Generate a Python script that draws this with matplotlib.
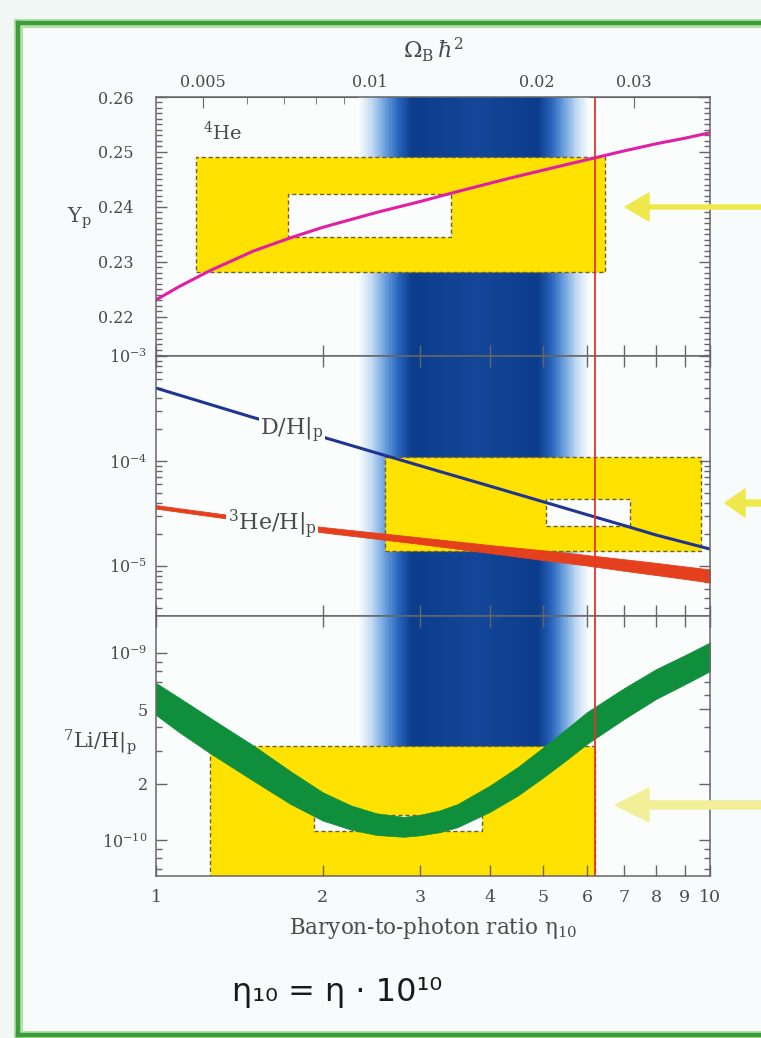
import numpy as np
import matplotlib
matplotlib.use("Agg")
import matplotlib.pyplot as plt
from matplotlib.patches import Rectangle, FancyArrow
from matplotlib.lines import Line2D
from matplotlib.colors import LinearSegmentedColormap
from matplotlib.ticker import FixedLocator, FixedFormatter, NullLocator, NullFormatter, MultipleLocator, LogLocator

plt.rcParams['font.family'] = ['DejaVu Serif']
plt.rcParams['mathtext.fontset'] = 'dejavuserif'

# ---------------- data ----------------
eta_ticks = [1, 2, 3, 4, 5, 6, 7, 8, 9, 10]
eta_tick_labels = ['1', '2', '3', '4', '5', '6', '7', '8', '9', '10']

omega_ticks = [0.005, 0.01, 0.02, 0.03]
omega_tick_labels = ['0.005', '0.01', '0.02', '0.03']
omega_minor = [0.006, 0.007, 0.008, 0.009]
ETA_PER_OMEGA = 243.0

yp_ticks = [0.22, 0.23, 0.24, 0.25, 0.26]
yp_tick_labels = ['0.22', '0.23', '0.24', '0.25', '0.26']

# 4He mass fraction
eta_yp = [1, 1.1, 1.25, 1.5, 1.75, 2, 2.5, 3, 3.5, 4, 4.5, 5, 5.5, 6, 7, 8, 9, 10]
yp = [0.2231, 0.2255, 0.2284, 0.2320, 0.2344, 0.2363, 0.2390, 0.2410, 0.2428, 0.2443,
      0.2456, 0.2467, 0.2477, 0.2486, 0.2502, 0.2515, 0.2525, 0.2535]

# D/H
eta_dh = [1, 1.5, 2, 3, 4, 5, 6, 7, 8, 10]
dh = [4.95e-4, 2.59e-4, 1.69e-4, 9.0e-5, 5.78e-5, 4.09e-5, 3.08e-5, 2.43e-5, 1.97e-5, 1.45e-5]

# 3He/H band
eta_he3 = [1, 1.5, 2, 3, 4, 5, 6, 7, 8, 10]
he3_hi = [3.80e-5, 2.85e-5, 2.35e-5, 1.87e-5, 1.585e-5, 1.41e-5, 1.27e-5, 1.16e-5, 1.07e-5, 9.27e-6]
he3_lo = [3.52e-5, 2.61e-5, 2.09e-5, 1.62e-5, 1.33e-5, 1.14e-5, 1.01e-5, 9.0e-6, 8.2e-6, 6.97e-6]

# 7Li/H band
eta_li = [1, 1.1, 1.25, 1.5, 1.75, 2, 2.25, 2.5, 2.8, 3, 3.25, 3.5, 4, 4.5, 5, 5.5, 6, 7, 8, 9, 10]
li_hi = [6.92e-10, 5.78e-10, 4.52e-10, 3.20e-10, 2.33e-10, 1.80e-10, 1.53e-10, 1.39e-10, 1.33e-10,
         1.365e-10, 1.44e-10, 1.556e-10, 1.95e-10, 2.46e-10, 3.13e-10, 3.92e-10, 4.84e-10,
         6.50e-10, 8.22e-10, 9.73e-10, 1.14e-9]
li_lo = [4.66e-10, 3.78e-10, 2.92e-10, 2.07e-10, 1.556e-10, 1.27e-10, 1.135e-10, 1.064e-10, 1.04e-10,
         1.06e-10, 1.10e-10, 1.17e-10, 1.41e-10, 1.73e-10, 2.16e-10, 2.67e-10, 3.27e-10,
         4.44e-10, 5.69e-10, 6.79e-10, 8.0e-10]

# observational boxes: [eta_lo, eta_hi, y_lo, y_hi]
he4_box_outer = [1.18, 6.47, 0.2281, 0.2491]
he4_box_inner = [1.73, 3.41, 0.2346, 0.2424]
d_box_outer = [2.59, 9.65, 1.39e-5, 1.10e-4]
d_box_inner = [5.06, 7.18, 2.40e-5, 4.35e-5]
li_box_outer = [1.25, 6.2, 3.0e-11, 3.2e-10]
li_box_inner = [1.93, 3.88, 1.12e-10, 1.36e-10]

# CMB
cmb_eta = 6.2
cmb_band = [2.32, 2.9, 3.8, 4.9, 6.05]
cmb_shade = [0.0, 1.0, 0.93, 1.0, 0.0]

# ---------------- figure ----------------
W, H = 761, 1038
fig = plt.figure(figsize=(W / 100, H / 100), dpi=100)
fig.patch.set_facecolor('#f1f7f5')

TXT = '#4a4a4a'
AXC = '#666666'
BG = '#fbfdfd'

def fr(x0, y0, x1, y1):
    return [x0 / W, 1 - y1 / H, (x1 - x0) / W, (y1 - y0) / H]

fig.add_artist(Rectangle((18 / W, 3 / H), 1, (1015 - 3) / H, transform=fig.transFigure,
                         facecolor='#f8fbfb', edgecolor='none', zorder=-10))

ax1 = fig.add_axes(fr(156, 97, 710, 356))
ax2 = fig.add_axes(fr(156, 356, 710, 616))
ax3 = fig.add_axes(fr(156, 616, 710, 876))

cmap = LinearSegmentedColormap.from_list('cmb', [BG, '#c0d9f2', '#6a9fdd', '#2763bb', '#0c3c8c'])

for ax in (ax1, ax2, ax3):
    ax.set_facecolor(BG)
    ax.set_xscale('log')
    ax.set_xlim(1, 10)
    x = np.logspace(np.log10(cmb_band[0]), np.log10(cmb_band[-1]), 301)
    lxm = 0.5 * (np.log10(x[1:]) + np.log10(x[:-1]))
    s = np.interp(lxm, np.log10(cmb_band), cmb_shade)
    ax.pcolormesh(x, [0, 1], s[None, :], cmap=cmap, vmin=0, vmax=1, shading='flat',
                  transform=ax.get_xaxis_transform(), zorder=0.5, rasterized=True)
    ax.axvline(cmb_eta, color='#e2362b', lw=1.3, zorder=6)
    for sp in ax.spines.values():
        sp.set_color(AXC)
        sp.set_linewidth(1.1)
        sp.set_zorder(7)
    ax.xaxis.set_major_locator(FixedLocator(eta_ticks))
    ax.xaxis.set_minor_locator(NullLocator())
    ax.xaxis.set_major_formatter(NullFormatter())
    ax.tick_params(which='both', direction='in', top=True, right=True, bottom=True, left=True,
                   colors=AXC, labelcolor=TXT, labelsize=11.5, width=1)
    ax.tick_params(which='major', length=8)
    ax.tick_params(which='minor', length=4)

def box(ax, b, face, ls_col='#6b6230', z=1):
    r = Rectangle((b[0], b[2]), b[1] - b[0], b[3] - b[2], facecolor=face,
                  edgecolor=ls_col, lw=1.0, ls=(0, (3, 2)), zorder=z)
    ax.add_patch(r)

YEL = '#ffe200'

# ---- top panel: 4He ----
ax1.set_ylim(0.2129, 0.2600)
ax1.yaxis.set_minor_locator(MultipleLocator(0.001))
ax1.set_yticks(yp_ticks, labels=yp_tick_labels)
ax1.tick_params(axis='y', which='major', pad=16)
ax1.tick_params(axis='x', top=False)
box(ax1, he4_box_outer, YEL, z=1)
box(ax1, he4_box_inner, BG, z=1.5)
ax1.plot(eta_yp, yp, color='#e11fa5', lw=2.2, zorder=4)
ax1.text(1.215, 0.2536, r'$^{4}$He', fontsize=14, color=TXT, va='center', ha='left')

sec = ax1.secondary_xaxis('top', functions=(lambda e: np.asarray(e) / ETA_PER_OMEGA,
                                            lambda o: np.asarray(o) * ETA_PER_OMEGA))
sec.set_xticks(omega_ticks, labels=omega_tick_labels)
sec.xaxis.set_minor_locator(FixedLocator(omega_minor))
sec.xaxis.set_minor_formatter(NullFormatter())
sec.tick_params(which='both', direction='in', colors=AXC, labelcolor=TXT, labelsize=11.5, pad=4)
sec.tick_params(which='major', length=8)
sec.tick_params(which='minor', length=5)
sec.spines['top'].set_color(AXC)
sec.set_xlabel(r'$\Omega_{\rm B}\,\hbar^{2}$', fontsize=16, color=TXT, labelpad=12)

fig.text(92 / W, 1 - 218 / H, r'Y$_{\rm p}$', fontsize=15, color=TXT, ha='right', va='center')

# ---- middle panel: D, 3He ----
ax2.set_yscale('log')
ax2.set_ylim(3.34e-6, 1e-3)
ax2.yaxis.set_major_locator(FixedLocator([1e-5, 1e-4, 1e-3]))
ax2.yaxis.set_major_formatter(FixedFormatter([r'$10^{-5}$', r'$10^{-4}$', r'$10^{-3}$']))
ax2.yaxis.set_minor_locator(LogLocator(base=10, subs=np.arange(2, 10)))
ax2.yaxis.set_minor_formatter(NullFormatter())
ax2.tick_params(axis='y', which='major', pad=6)
box(ax2, d_box_outer, YEL, z=1)
box(ax2, d_box_inner, BG, z=1.5)
ax2.fill_between(eta_he3, he3_lo, he3_hi, color='#e5401e', lw=0.6, edgecolor='#e5401e', zorder=3)
ax2.plot(eta_dh, dh, color='#1f3590', lw=2.2, zorder=4)
ax2.text(1.76, 1.95e-4, r'D/H$|_{\rm p}$', fontsize=16, color=TXT, ha='center', va='center', zorder=5,
         bbox=dict(facecolor=BG, edgecolor='none', pad=1.0))
ax2.text(1.62, 2.5e-5, r'$^{3}$He/H$|_{\rm p}$', fontsize=16, color=TXT, ha='center', va='center', zorder=5,
         bbox=dict(facecolor=BG, edgecolor='none', pad=1.0))

# ---- bottom panel: 7Li ----
ax3.set_yscale('log')
ax3.set_ylim(6.42e-11, 1.578e-9)
ax3.yaxis.set_major_locator(FixedLocator([1e-10, 2e-10, 5e-10, 1e-9]))
ax3.yaxis.set_major_formatter(FixedFormatter([r'$10^{-10}$', '2', '5', r'$10^{-9}$']))
ax3.yaxis.set_minor_locator(FixedLocator([7e-11, 8e-11, 9e-11, 3e-10, 4e-10, 6e-10, 7e-10, 8e-10, 9e-10]))
ax3.yaxis.set_minor_formatter(NullFormatter())
ax3.tick_params(axis='y', which='major', pad=6)
box(ax3, li_box_outer, YEL, z=1)
box(ax3, li_box_inner, BG, z=1.5)
ax3.fill_between(eta_li, li_lo, li_hi, color='#0f8f3c', lw=0.5, edgecolor='#0f8f3c', zorder=4)
ax3.xaxis.set_major_formatter(FixedFormatter(eta_tick_labels))
ax3.tick_params(axis='x', which='major', pad=9, labelsize=12.5)
ax3.set_xlabel('Baryon-to-photon ratio η$_{10}$', fontsize=15.5, color=TXT, labelpad=7)
fig.text(137 / W, 1 - 742 / H, r'$^{7}$Li/H$|_{\rm p}$', fontsize=15, color=TXT, ha='right', va='center')

# ---- hand annotations ----
s = fig.dpi_scale_trans
fig.add_artist(FancyArrow(7.61, (H - 207) / 100, -1.36, 0, width=0.04, head_width=0.28,
                          head_length=0.24, length_includes_head=True, color='#efe84a',
                          transform=s, zorder=10))
fig.add_artist(FancyArrow(7.61, (H - 503) / 100, -0.36, 0, width=0.06, head_width=0.28,
                          head_length=0.2, length_includes_head=True, color='#efe84a',
                          transform=s, zorder=10))
fig.add_artist(FancyArrow(7.61, (H - 805) / 100, -1.46, 0, width=0.08, head_width=0.34,
                          head_length=0.34, length_includes_head=True, color='#f2ef98',
                          transform=s, zorder=10))

fig.text(232 / W, 1 - 993 / H, 'η₁₀ = η · 10¹⁰', fontsize=23, color='#1a1a1a',
         family=['DejaVu Sans'], ha='left', va='center')

# green frame
for xs, ys in [((18, 761), (23, 23)), ((18, 18), (23, 1035)), ((18, 761), (1035, 1035))]:
    fig.add_artist(Line2D([xs[0] / W, xs[1] / W], [1 - ys[0] / H, 1 - ys[1] / H],
                          transform=fig.transFigure, color='#b6e0a8', lw=6.5, zorder=11))
    fig.add_artist(Line2D([xs[0] / W, xs[1] / W], [1 - ys[0] / H, 1 - ys[1] / H],
                          transform=fig.transFigure, color='#3b9e3b', lw=3.2, zorder=12,
                          solid_capstyle='projecting'))

fig.savefig('out.png', dpi=100, facecolor=fig.get_facecolor())
